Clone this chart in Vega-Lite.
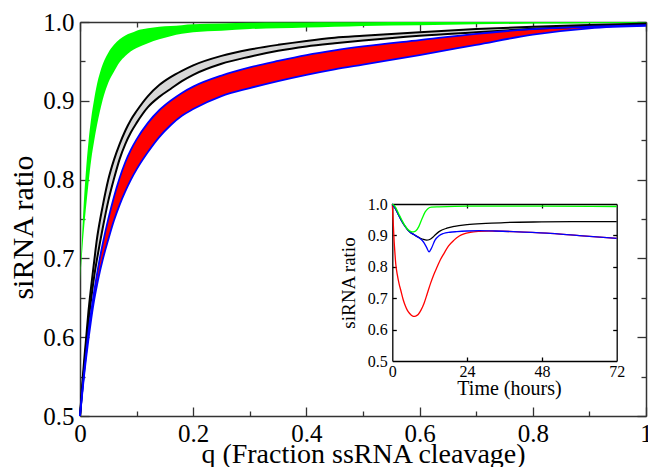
{
  "$schema": "https://vega.github.io/schema/vega-lite/v6.json",
  "width": 566,
  "height": 394,
  "autosize": {"type": "none"},
  "padding": {"left": 80, "top": 22, "right": 2, "bottom": 51},
  "background": "white",
  "config": {
    "view": {"stroke": null},
    "font": "Liberation Serif",
    "axis": {
      "grid": false,
      "domainColor": "#333",
      "domainWidth": 1.5,
      "tickColor": "#333",
      "tickWidth": 1.3,
      "labelColor": "#000",
      "titleColor": "#000",
      "labelFont": "Liberation Serif",
      "titleFont": "Liberation Serif",
      "titleFontWeight": "normal",
      "labelFlush": false,
      "labelOverlap": false,
      "zindex": 1
    }
  },
  "datasets": {
    "bands": [
      {"b": "green", "q": 0, "lo": 0.67, "hi": 0.67},
      {"b": "green", "q": 0.0025, "lo": 0.695, "hi": 0.71},
      {"b": "green", "q": 0.005, "lo": 0.72, "hi": 0.748},
      {"b": "green", "q": 0.0075, "lo": 0.741, "hi": 0.78},
      {"b": "green", "q": 0.01, "lo": 0.76, "hi": 0.806},
      {"b": "green", "q": 0.015, "lo": 0.795, "hi": 0.848},
      {"b": "green", "q": 0.02, "lo": 0.826, "hi": 0.879},
      {"b": "green", "q": 0.025, "lo": 0.849, "hi": 0.902},
      {"b": "green", "q": 0.03, "lo": 0.869, "hi": 0.921},
      {"b": "green", "q": 0.035, "lo": 0.886, "hi": 0.935},
      {"b": "green", "q": 0.04, "lo": 0.901, "hi": 0.946},
      {"b": "green", "q": 0.05, "lo": 0.923, "hi": 0.961},
      {"b": "green", "q": 0.06, "lo": 0.937, "hi": 0.971},
      {"b": "green", "q": 0.07, "lo": 0.949, "hi": 0.978},
      {"b": "green", "q": 0.08, "lo": 0.957, "hi": 0.983},
      {"b": "green", "q": 0.09, "lo": 0.963, "hi": 0.986},
      {"b": "green", "q": 0.1, "lo": 0.967, "hi": 0.989},
      {"b": "green", "q": 0.12, "lo": 0.973, "hi": 0.992},
      {"b": "green", "q": 0.14, "lo": 0.978, "hi": 0.994},
      {"b": "green", "q": 0.16, "lo": 0.982, "hi": 0.995},
      {"b": "green", "q": 0.18, "lo": 0.985, "hi": 0.996},
      {"b": "green", "q": 0.2, "lo": 0.987, "hi": 0.997},
      {"b": "green", "q": 0.25, "lo": 0.989, "hi": 0.998},
      {"b": "green", "q": 0.3, "lo": 0.991, "hi": 0.999},
      {"b": "green", "q": 0.35, "lo": 0.992, "hi": 0.9993},
      {"b": "green", "q": 0.4, "lo": 0.993, "hi": 0.9995},
      {"b": "green", "q": 0.45, "lo": 0.994, "hi": 0.9997},
      {"b": "green", "q": 0.5, "lo": 0.995, "hi": 0.9998},
      {"b": "green", "q": 0.6, "lo": 0.996, "hi": 1.0},
      {"b": "green", "q": 0.7, "lo": 0.997, "hi": 1.0},
      {"b": "green", "q": 0.8, "lo": 0.998, "hi": 1.0},
      {"b": "green", "q": 0.9, "lo": 0.9985, "hi": 1.0},
      {"b": "green", "q": 1.0, "lo": 0.999, "hi": 1.0},

      {"b": "gray", "q": 0, "lo": 0.5, "hi": 0.5},
      {"b": "gray", "q": 0.0025, "lo": 0.521, "hi": 0.525},
      {"b": "gray", "q": 0.005, "lo": 0.542, "hi": 0.55},
      {"b": "gray", "q": 0.0075, "lo": 0.562, "hi": 0.572},
      {"b": "gray", "q": 0.01, "lo": 0.582, "hi": 0.592},
      {"b": "gray", "q": 0.015, "lo": 0.62, "hi": 0.633},
      {"b": "gray", "q": 0.02, "lo": 0.65, "hi": 0.666},
      {"b": "gray", "q": 0.025, "lo": 0.677, "hi": 0.696},
      {"b": "gray", "q": 0.03, "lo": 0.699, "hi": 0.725},
      {"b": "gray", "q": 0.035, "lo": 0.719, "hi": 0.747},
      {"b": "gray", "q": 0.04, "lo": 0.738, "hi": 0.766},
      {"b": "gray", "q": 0.05, "lo": 0.773, "hi": 0.8},
      {"b": "gray", "q": 0.06, "lo": 0.801, "hi": 0.825},
      {"b": "gray", "q": 0.07, "lo": 0.826, "hi": 0.845},
      {"b": "gray", "q": 0.08, "lo": 0.845, "hi": 0.862},
      {"b": "gray", "q": 0.09, "lo": 0.86, "hi": 0.876},
      {"b": "gray", "q": 0.1, "lo": 0.872, "hi": 0.887},
      {"b": "gray", "q": 0.12, "lo": 0.892, "hi": 0.906},
      {"b": "gray", "q": 0.14, "lo": 0.905, "hi": 0.92},
      {"b": "gray", "q": 0.16, "lo": 0.915, "hi": 0.93},
      {"b": "gray", "q": 0.18, "lo": 0.925, "hi": 0.938},
      {"b": "gray", "q": 0.2, "lo": 0.933, "hi": 0.945},
      {"b": "gray", "q": 0.25, "lo": 0.947, "hi": 0.957},
      {"b": "gray", "q": 0.3, "lo": 0.956, "hi": 0.965},
      {"b": "gray", "q": 0.35, "lo": 0.9635, "hi": 0.971},
      {"b": "gray", "q": 0.4, "lo": 0.969, "hi": 0.976},
      {"b": "gray", "q": 0.45, "lo": 0.973, "hi": 0.98},
      {"b": "gray", "q": 0.5, "lo": 0.9765, "hi": 0.9825},
      {"b": "gray", "q": 0.6, "lo": 0.9825, "hi": 0.987},
      {"b": "gray", "q": 0.7, "lo": 0.987, "hi": 0.991},
      {"b": "gray", "q": 0.8, "lo": 0.9913, "hi": 0.994},
      {"b": "gray", "q": 0.9, "lo": 0.9945, "hi": 0.9962},
      {"b": "gray", "q": 1.0, "lo": 0.997, "hi": 0.998},

      {"b": "red", "q": 0, "lo": 0.5, "hi": 0.5},
      {"b": "red", "q": 0.0025, "lo": 0.518, "hi": 0.52},
      {"b": "red", "q": 0.005, "lo": 0.536, "hi": 0.539},
      {"b": "red", "q": 0.0075, "lo": 0.553, "hi": 0.557},
      {"b": "red", "q": 0.01, "lo": 0.569, "hi": 0.574},
      {"b": "red", "q": 0.015, "lo": 0.598, "hi": 0.607},
      {"b": "red", "q": 0.02, "lo": 0.624, "hi": 0.634},
      {"b": "red", "q": 0.025, "lo": 0.647, "hi": 0.658},
      {"b": "red", "q": 0.03, "lo": 0.666, "hi": 0.68},
      {"b": "red", "q": 0.035, "lo": 0.683, "hi": 0.7},
      {"b": "red", "q": 0.04, "lo": 0.698, "hi": 0.718},
      {"b": "red", "q": 0.05, "lo": 0.724, "hi": 0.75},
      {"b": "red", "q": 0.06, "lo": 0.748, "hi": 0.778},
      {"b": "red", "q": 0.07, "lo": 0.768, "hi": 0.802},
      {"b": "red", "q": 0.08, "lo": 0.785, "hi": 0.822},
      {"b": "red", "q": 0.09, "lo": 0.8, "hi": 0.838},
      {"b": "red", "q": 0.1, "lo": 0.813, "hi": 0.851},
      {"b": "red", "q": 0.12, "lo": 0.835, "hi": 0.872},
      {"b": "red", "q": 0.14, "lo": 0.854, "hi": 0.888},
      {"b": "red", "q": 0.16, "lo": 0.869, "hi": 0.9},
      {"b": "red", "q": 0.18, "lo": 0.881, "hi": 0.91},
      {"b": "red", "q": 0.2, "lo": 0.8895, "hi": 0.918},
      {"b": "red", "q": 0.25, "lo": 0.906, "hi": 0.932},
      {"b": "red", "q": 0.3, "lo": 0.9161, "hi": 0.9424},
      {"b": "red", "q": 0.35, "lo": 0.925, "hi": 0.9506},
      {"b": "red", "q": 0.4, "lo": 0.933, "hi": 0.958},
      {"b": "red", "q": 0.45, "lo": 0.94, "hi": 0.964},
      {"b": "red", "q": 0.5, "lo": 0.946, "hi": 0.969},
      {"b": "red", "q": 0.6, "lo": 0.958, "hi": 0.977},
      {"b": "red", "q": 0.7, "lo": 0.971, "hi": 0.985},
      {"b": "red", "q": 0.8, "lo": 0.984, "hi": 0.991},
      {"b": "red", "q": 0.9, "lo": 0.992, "hi": 0.994},
      {"b": "red", "q": 1.0, "lo": 0.995, "hi": 0.996}
    ],
    "inset": [
      {"s": "green", "t": 0, "v": 1.0},
      {"s": "green", "t": 0.5, "v": 0.996},
      {"s": "green", "t": 1, "v": 0.99},
      {"s": "green", "t": 2, "v": 0.97},
      {"s": "green", "t": 3, "v": 0.95},
      {"s": "green", "t": 4, "v": 0.932},
      {"s": "green", "t": 5, "v": 0.919},
      {"s": "green", "t": 6, "v": 0.912},
      {"s": "green", "t": 6.7, "v": 0.911},
      {"s": "green", "t": 7.5, "v": 0.914},
      {"s": "green", "t": 8.5, "v": 0.928},
      {"s": "green", "t": 9.5, "v": 0.952},
      {"s": "green", "t": 10.5, "v": 0.974},
      {"s": "green", "t": 11.5, "v": 0.986},
      {"s": "green", "t": 12.5, "v": 0.99},
      {"s": "green", "t": 15, "v": 0.991},
      {"s": "green", "t": 24, "v": 0.993},
      {"s": "green", "t": 48, "v": 0.993},
      {"s": "green", "t": 72, "v": 0.992},

      {"s": "black", "t": 0, "v": 1.0},
      {"s": "black", "t": 1, "v": 0.985},
      {"s": "black", "t": 2, "v": 0.965},
      {"s": "black", "t": 3, "v": 0.946},
      {"s": "black", "t": 4, "v": 0.93},
      {"s": "black", "t": 5, "v": 0.917},
      {"s": "black", "t": 6, "v": 0.908},
      {"s": "black", "t": 7, "v": 0.902},
      {"s": "black", "t": 8, "v": 0.896},
      {"s": "black", "t": 9, "v": 0.891},
      {"s": "black", "t": 10, "v": 0.887},
      {"s": "black", "t": 11, "v": 0.885},
      {"s": "black", "t": 12, "v": 0.887},
      {"s": "black", "t": 13, "v": 0.894},
      {"s": "black", "t": 14, "v": 0.904},
      {"s": "black", "t": 15, "v": 0.912},
      {"s": "black", "t": 17.5, "v": 0.923},
      {"s": "black", "t": 20, "v": 0.929},
      {"s": "black", "t": 24, "v": 0.934},
      {"s": "black", "t": 30, "v": 0.938},
      {"s": "black", "t": 36, "v": 0.941},
      {"s": "black", "t": 48, "v": 0.943},
      {"s": "black", "t": 60, "v": 0.944},
      {"s": "black", "t": 72, "v": 0.944},

      {"s": "blue", "t": 0, "v": 1.0},
      {"s": "blue", "t": 1, "v": 0.985},
      {"s": "blue", "t": 2, "v": 0.965},
      {"s": "blue", "t": 3, "v": 0.946},
      {"s": "blue", "t": 4, "v": 0.93},
      {"s": "blue", "t": 5, "v": 0.917},
      {"s": "blue", "t": 6, "v": 0.908},
      {"s": "blue", "t": 7, "v": 0.902},
      {"s": "blue", "t": 8, "v": 0.896},
      {"s": "blue", "t": 9, "v": 0.889},
      {"s": "blue", "t": 10, "v": 0.879},
      {"s": "blue", "t": 11, "v": 0.862},
      {"s": "blue", "t": 11.8, "v": 0.848},
      {"s": "blue", "t": 12.6, "v": 0.86},
      {"s": "blue", "t": 13.7, "v": 0.885},
      {"s": "blue", "t": 15, "v": 0.899},
      {"s": "blue", "t": 16.4, "v": 0.906},
      {"s": "blue", "t": 18.5, "v": 0.91},
      {"s": "blue", "t": 20.7, "v": 0.912},
      {"s": "blue", "t": 24, "v": 0.914},
      {"s": "blue", "t": 28, "v": 0.915},
      {"s": "blue", "t": 33, "v": 0.914},
      {"s": "blue", "t": 38.8, "v": 0.912},
      {"s": "blue", "t": 49.5, "v": 0.907},
      {"s": "blue", "t": 60, "v": 0.899},
      {"s": "blue", "t": 72, "v": 0.8906},

      {"s": "red", "t": 0, "v": 1.0},
      {"s": "red", "t": 0.2, "v": 0.96},
      {"s": "red", "t": 0.4, "v": 0.92},
      {"s": "red", "t": 0.6, "v": 0.88},
      {"s": "red", "t": 0.8, "v": 0.85},
      {"s": "red", "t": 1.1, "v": 0.81},
      {"s": "red", "t": 1.6, "v": 0.775},
      {"s": "red", "t": 2.2, "v": 0.745},
      {"s": "red", "t": 2.7, "v": 0.726},
      {"s": "red", "t": 3.5, "v": 0.695},
      {"s": "red", "t": 4.2, "v": 0.675},
      {"s": "red", "t": 4.8, "v": 0.662},
      {"s": "red", "t": 5.5, "v": 0.652},
      {"s": "red", "t": 6.2, "v": 0.645},
      {"s": "red", "t": 6.8, "v": 0.642},
      {"s": "red", "t": 7.5, "v": 0.643},
      {"s": "red", "t": 8.3, "v": 0.648},
      {"s": "red", "t": 9.2, "v": 0.662},
      {"s": "red", "t": 10.2, "v": 0.684},
      {"s": "red", "t": 11.2, "v": 0.714},
      {"s": "red", "t": 12.3, "v": 0.748},
      {"s": "red", "t": 13.3, "v": 0.775},
      {"s": "red", "t": 14.4, "v": 0.8},
      {"s": "red", "t": 15.5, "v": 0.824},
      {"s": "red", "t": 16.6, "v": 0.843},
      {"s": "red", "t": 18, "v": 0.866},
      {"s": "red", "t": 19.8, "v": 0.885},
      {"s": "red", "t": 21.5, "v": 0.898},
      {"s": "red", "t": 23, "v": 0.905},
      {"s": "red", "t": 25, "v": 0.91},
      {"s": "red", "t": 28, "v": 0.913},
      {"s": "red", "t": 31, "v": 0.914},
      {"s": "red", "t": 38.8, "v": 0.912},
      {"s": "red", "t": 49.5, "v": 0.907},
      {"s": "red", "t": 60, "v": 0.899},
      {"s": "red", "t": 72, "v": 0.8906}
    ]
  },
  "layer": [
    {
      "data": {"name": "bands"},
      "resolve": {"axis": {"x": "independent", "y": "independent"}},
      "layer": [
        {
          "transform": [{"filter": "datum.b == 'green'"}],
          "mark": {"type": "area", "color": "#00ff00", "interpolate": "monotone"},
          "encoding": {
            "x": {"field": "q", "type": "quantitative", "scale": {"domain": [0, 1], "nice": false, "zero": false},
              "axis": {"orient": "bottom", "values": [0, 0.2, 0.4, 0.6, 0.8, 1], "ticks": false, "domain": true,
                "labelFontSize": 25, "labelPadding": 5,
                "labelExpr": "datum.value == 0 ? '0' : datum.value == 1 ? '1' : format(datum.value, '.1f')",
                "title": "q (Fraction ssRNA cleavage)", "titleFontSize": 28, "titleY": 46.5, "titleBaseline": "alphabetic"}},
            "y": {"field": "lo", "type": "quantitative", "scale": {"domain": [0.5, 1], "nice": false, "zero": false},
              "axis": {"orient": "left", "values": [0.5, 0.6, 0.7, 0.8, 0.9, 1.0], "ticks": false, "domain": true,
                "format": ".1f", "labelFontSize": 25, "labelPadding": 6,
                "title": "siRNA ratio", "titleFontSize": 30, "titleX": -48, "titleY": 205, "titleBaseline": "alphabetic"}},
            "y2": {"field": "hi"}
          }
        },
        {
          "transform": [{"filter": "datum.b == 'gray'"}],
          "mark": {"type": "area", "color": "#d8d8d8", "interpolate": "monotone"},
          "encoding": {
            "x": {"field": "q", "type": "quantitative", "scale": {"domain": [0, 1], "nice": false, "zero": false},
              "axis": {"orient": "top", "ticks": false, "labels": false, "domain": true, "title": null}},
            "y": {"field": "lo", "type": "quantitative", "scale": {"domain": [0.5, 1], "nice": false, "zero": false},
              "axis": {"orient": "right", "ticks": false, "labels": false, "domain": true, "title": null}},
            "y2": {"field": "hi"}
          }
        },
        {
          "transform": [{"filter": "datum.b == 'red'"}],
          "mark": {"type": "area", "color": "#ff0000", "interpolate": "monotone"},
          "encoding": {
            "x": {"field": "q", "type": "quantitative", "scale": {"domain": [0, 1], "nice": false, "zero": false},
              "axis": {"orient": "bottom", "offset": -9, "values": [0, 0.2, 0.4, 0.6, 0.8, 1], "tickSize": 9, "labels": false, "domain": false, "title": null}},
            "y": {"field": "lo", "type": "quantitative", "scale": {"domain": [0.5, 1], "nice": false, "zero": false},
              "axis": {"orient": "left", "offset": -9, "values": [0.5, 0.6, 0.7, 0.8, 0.9, 1.0], "tickSize": 9, "labels": false, "domain": false, "title": null}},
            "y2": {"field": "hi"}
          }
        },
        {
          "transform": [{"filter": "datum.b == 'gray'"}],
          "mark": {"type": "line", "color": "#000000", "interpolate": "monotone", "strokeWidth": 2},
          "encoding": {
            "x": {"field": "q", "type": "quantitative", "scale": {"domain": [0, 1], "nice": false, "zero": false},
              "axis": {"orient": "bottom", "offset": -5, "values": [0.1, 0.3, 0.5, 0.7, 0.9], "tickSize": 5, "labels": false, "domain": false, "title": null}},
            "y": {"field": "hi", "type": "quantitative", "scale": {"domain": [0.5, 1], "nice": false, "zero": false},
              "axis": {"orient": "left", "offset": -5, "values": [0.55, 0.65, 0.75, 0.85, 0.95], "tickSize": 5, "labels": false, "domain": false, "title": null}}
          }
        },
        {
          "transform": [{"filter": "datum.b == 'gray'"}],
          "mark": {"type": "line", "color": "#000000", "interpolate": "monotone", "strokeWidth": 2},
          "encoding": {
            "x": {"field": "q", "type": "quantitative", "scale": {"domain": [0, 1], "nice": false, "zero": false},
              "axis": {"orient": "top", "offset": -9, "values": [0, 0.2, 0.4, 0.6, 0.8, 1], "tickSize": 9, "labels": false, "domain": false, "title": null}},
            "y": {"field": "lo", "type": "quantitative", "scale": {"domain": [0.5, 1], "nice": false, "zero": false},
              "axis": {"orient": "right", "offset": -9, "values": [0.5, 0.6, 0.7, 0.8, 0.9, 1.0], "tickSize": 9, "labels": false, "domain": false, "title": null}}
          }
        },
        {
          "transform": [{"filter": "datum.b == 'red'"}],
          "mark": {"type": "line", "color": "#0000ff", "interpolate": "monotone", "strokeWidth": 1.8},
          "encoding": {
            "x": {"field": "q", "type": "quantitative", "scale": {"domain": [0, 1], "nice": false, "zero": false},
              "axis": {"orient": "top", "offset": -5, "values": [0.1, 0.3, 0.5, 0.7, 0.9], "tickSize": 5, "labels": false, "domain": false, "title": null}},
            "y": {"field": "hi", "type": "quantitative", "scale": {"domain": [0.5, 1], "nice": false, "zero": false},
              "axis": {"orient": "right", "offset": -5, "values": [0.55, 0.65, 0.75, 0.85, 0.95], "tickSize": 5, "labels": false, "domain": false, "title": null}}
          }
        },
        {
          "transform": [{"filter": "datum.b == 'red'"}],
          "mark": {"type": "line", "color": "#0000ff", "interpolate": "monotone", "strokeWidth": 1.8},
          "encoding": {
            "x": {"field": "q", "type": "quantitative", "scale": {"domain": [0, 1], "nice": false, "zero": false}, "axis": null},
            "y": {"field": "lo", "type": "quantitative", "scale": {"domain": [0.5, 1], "nice": false, "zero": false}, "axis": null}
          }
        }
      ]
    },
    {
      "data": {"name": "inset"},
      "resolve": {"axis": {"x": "independent", "y": "independent"}},
      "layer": [
        {
          "transform": [{"filter": "datum.s == 'red'"}],
          "mark": {"type": "line", "color": "#ff0000", "strokeWidth": 1.3, "interpolate": "monotone"},
          "encoding": {
            "x": {"field": "t", "type": "quantitative", "scale": {"domain": [0, 72], "range": [312.3, 536.7], "nice": false, "zero": false},
              "axis": {"orient": "bottom", "offset": -55, "values": [0, 24, 48, 72], "ticks": false, "domain": true,
                "domainColor": "#000", "domainWidth": 1.3, "format": "d", "labelFontSize": 16, "labelPadding": 2,
                "title": "Time (hours)", "titleFontSize": 20, "titleY": 33, "titleX": 429, "titleBaseline": "alphabetic"}},
            "y": {"field": "v", "type": "quantitative", "scale": {"domain": [0.5, 1], "range": [339, 182], "nice": false, "zero": false},
              "axis": {"orient": "left", "offset": -312.3, "values": [0.5, 0.6, 0.7, 0.8, 0.9, 1.0], "ticks": false, "domain": true,
                "domainColor": "#000", "domainWidth": 1.3, "format": ".1f", "labelFontSize": 16, "labelPadding": 5,
                "title": "siRNA ratio", "titleFontSize": 19, "titleX": -38, "titleBaseline": "alphabetic"}}
          }
        },
        {
          "transform": [{"filter": "datum.s == 'black'"}],
          "mark": {"type": "line", "color": "#000000", "strokeWidth": 1.3, "interpolate": "monotone"},
          "encoding": {
            "x": {"field": "t", "type": "quantitative", "scale": {"domain": [0, 72], "range": [312.3, 536.7], "nice": false, "zero": false},
              "axis": {"orient": "top", "offset": -182, "ticks": false, "labels": false, "domain": true,
                "domainColor": "#000", "domainWidth": 1.3, "title": null}},
            "y": {"field": "v", "type": "quantitative", "scale": {"domain": [0.5, 1], "range": [339, 182], "nice": false, "zero": false},
              "axis": {"orient": "right", "offset": -29.3, "ticks": false, "labels": false, "domain": true,
                "domainColor": "#000", "domainWidth": 1.3, "title": null}}
          }
        },
        {
          "transform": [{"filter": "datum.s == 'blue'"}],
          "mark": {"type": "line", "color": "#0000ff", "strokeWidth": 1.3, "interpolate": "monotone"},
          "encoding": {
            "x": {"field": "t", "type": "quantitative", "scale": {"domain": [0, 72], "range": [312.3, 536.7], "nice": false, "zero": false},
              "axis": {"orient": "bottom", "offset": -59, "values": [24, 48], "tickSize": 4, "tickColor": "#000", "labels": false, "domain": false, "title": null}},
            "y": {"field": "v", "type": "quantitative", "scale": {"domain": [0.5, 1], "range": [339, 182], "nice": false, "zero": false},
              "axis": {"orient": "left", "offset": -316.3, "values": [0.6, 0.7, 0.8, 0.9], "tickSize": 4, "tickColor": "#000", "labels": false, "domain": false, "title": null}}
          }
        },
        {
          "transform": [{"filter": "datum.s == 'green'"}],
          "mark": {"type": "line", "color": "#00ff00", "strokeWidth": 1.3, "interpolate": "monotone"},
          "encoding": {
            "x": {"field": "t", "type": "quantitative", "scale": {"domain": [0, 72], "range": [312.3, 536.7], "nice": false, "zero": false},
              "axis": {"orient": "top", "offset": -186, "values": [24, 48], "tickSize": 4, "tickColor": "#000", "labels": false, "domain": false, "title": null}},
            "y": {"field": "v", "type": "quantitative", "scale": {"domain": [0.5, 1], "range": [339, 182], "nice": false, "zero": false},
              "axis": {"orient": "right", "offset": -33.3, "values": [0.6, 0.7, 0.8, 0.9], "tickSize": 4, "tickColor": "#000", "labels": false, "domain": false, "title": null}}
          }
        }
      ]
    }
  ],
  "resolve": {"scale": {"x": "independent", "y": "independent"}}
}
